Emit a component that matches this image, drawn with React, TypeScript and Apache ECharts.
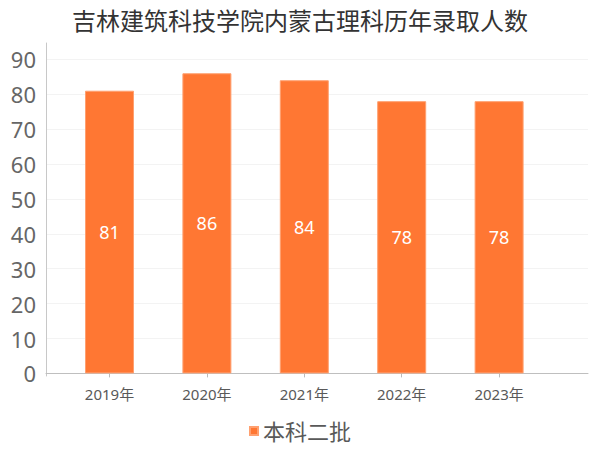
import React, { useEffect, useRef } from "react";
import * as echarts from "echarts";

const titleText = "吉林建筑科技学院内蒙古理科历年录取人数";
const categories = ["2019年", "2020年", "2021年", "2022年", "2023年"];
const seriesName = "本科二批";
const values = [81, 86, 84, 78, 78];
const yMin = 0;
const yMax = 90;
const yInterval = 10;

const FONT = "'Noto Sans', 'Noto Sans CJK SC', sans-serif";

export default function App() {
  const ref = useRef<HTMLDivElement>(null);
  useEffect(() => {
    document.body.style.margin = "0";
    if (!ref.current) return;
    const chart = echarts.init(ref.current, undefined, { renderer: "svg" });
    chart.setOption({
      animation: false,
      backgroundColor: "#ffffff",
      textStyle: { fontFamily: FONT },
      title: {
        text: titleText,
        left: "center",
        top: 3,
        textStyle: { fontSize: 24, fontWeight: "normal", color: "#333333", fontFamily: FONT },
      },
      legend: {
        data: [seriesName],
        bottom: 3,
        left: "center",
        icon: "rect",
        itemWidth: 8,
        itemHeight: 8,
        itemGap: 4,
        textStyle: { fontSize: 22, color: "#595959", fontFamily: FONT },
      },
      grid: [
        { left: 60.8, right: 52.2, top: 59.3, bottom: 76.6 },
        { left: 46, right: 12, top: 59.3, bottom: 76.6 },
        { left: 46, right: 12, top: 43, bottom: 74 },
      ],
      xAxis: [
        {
          gridIndex: 0,
          type: "category",
          data: categories,
          offset: 4.6,
          axisLine: { show: false },
          axisTick: { show: true, alignWithLabel: true, length: 4, lineStyle: { color: "#bbbbbb" } },
          axisLabel: { fontSize: 15, color: "#595959", margin: 8, fontFamily: FONT },
        },
        {
          gridIndex: 1,
          type: "value",
          min: 0,
          max: 1,
          offset: 4.6,
          axisLine: { show: true, lineStyle: { color: "#bfbfbf" } },
          axisTick: { show: false },
          axisLabel: { show: false },
          splitLine: { show: false },
        },
        { gridIndex: 2, type: "value", show: false },
      ],
      yAxis: [
        { gridIndex: 0, type: "value", min: yMin, max: yMax, interval: yInterval, show: false },
        {
          gridIndex: 1,
          type: "value",
          min: yMin,
          max: yMax,
          interval: yInterval,
          offset: 4,
          axisLine: { show: false },
          axisTick: { show: false },
          axisLabel: { fontSize: 22, color: "#666666", margin: 6, fontFamily: FONT },
          splitLine: { show: true, lineStyle: { color: "#f3f3f3" } },
        },
        {
          gridIndex: 2,
          type: "value",
          min: 0,
          max: 1,
          offset: 4,
          axisLine: { show: true, lineStyle: { color: "#c8c8c8" } },
          axisTick: { show: false },
          axisLabel: { show: false },
          splitLine: { show: false },
        },
      ],
      series: [
        {
          name: seriesName,
          type: "bar",
          xAxisIndex: 0,
          yAxisIndex: 0,
          data: values,
          barWidth: 49,
          itemStyle: { color: "#FF7733", borderColor: "#FFA070", borderWidth: 1 },
          label: {
            show: true,
            position: "inside",
            color: "#ffffff",
            fontSize: 18,
            fontFamily: FONT,
          },
        },
      ],
    });
    return () => chart.dispose();
  }, []);
  return <div ref={ref} style={{ width: 600, height: 450 }} />;
}
